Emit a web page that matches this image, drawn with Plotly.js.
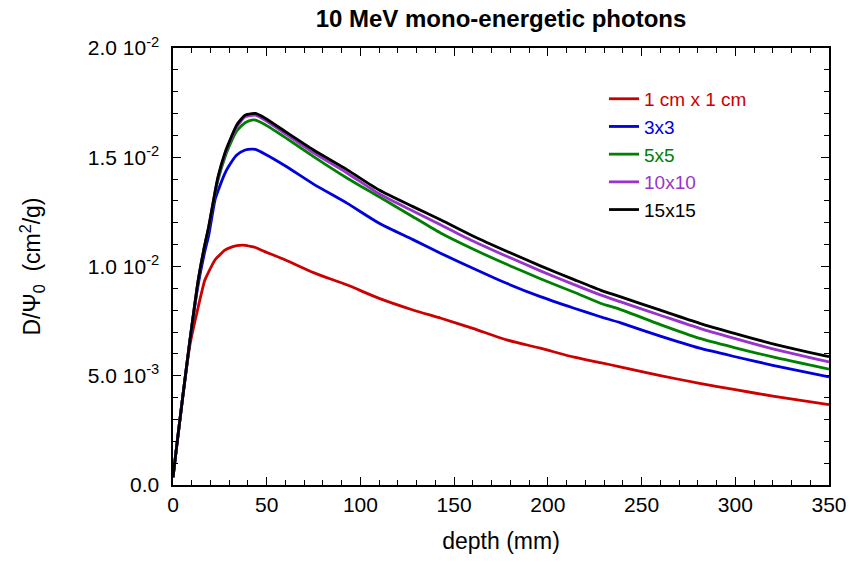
<!DOCTYPE html>
<html>
<head>
<meta charset="utf-8">
<script src="https://cdn.plot.ly/plotly-3.0.1.min.js"></script>
<style>
html,body{margin:0;padding:0;background:#fff;}
#chart{width:860px;height:562px;}
</style>
</head>
<body>
<div id="chart"></div>
<script>
// depth in mm
var depth = [0, 2, 5, 9, 13.5, 17, 19, 22.4, 24, 27.7, 29.5, 34, 38.5, 42, 44, 49, 60, 75, 93, 110, 128, 143, 160, 178, 196, 214, 228, 238.5, 260, 281, 300, 320, 350];
// D/Psi0 values in units of 1e-3 cm^2/g
var field1x1 = [0.35, 1.8, 3.9, 6.4, 8.16, 9.38, 9.75, 10.3, 10.45, 10.75, 10.83, 10.95, 10.97, 10.91, 10.87, 10.68, 10.3, 9.72, 9.15, 8.54, 8.01, 7.63, 7.17, 6.64, 6.26, 5.85, 5.60, 5.41, 5.01, 4.65, 4.36, 4.07, 3.68];
var field3x3 = [0.35, 1.8, 3.9, 6.6, 9.2, 10.7, 11.4, 13.04, 13.45, 14.26, 14.55, 15.1, 15.33, 15.37, 15.36, 15.15, 14.6, 13.77, 12.89, 11.98, 11.23, 10.6, 9.92, 9.23, 8.62, 8.09, 7.70, 7.43, 6.81, 6.26, 5.87, 5.48, 4.95];
var field5x5 = [0.35, 1.8, 3.9, 6.6, 9.4, 11.0, 11.75, 13.3, 13.95, 15.0, 15.4, 16.2, 16.58, 16.70, 16.70, 16.5, 15.9, 15.03, 14.04, 13.19, 12.28, 11.52, 10.8, 10.1, 9.44, 8.82, 8.32, 8.04, 7.34, 6.71, 6.28, 5.86, 5.30];
var field10x10 = [0.35, 1.8, 3.9, 6.6, 9.4, 11.0, 11.8, 13.4, 14.05, 15.15, 15.55, 16.4, 16.85, 16.92, 16.93, 16.7, 16.07, 15.2, 14.27, 13.33, 12.54, 11.9, 11.17, 10.47, 9.8, 9.17, 8.70, 8.39, 7.77, 7.17, 6.70, 6.23, 5.63];
var field15x15 = [0.35, 1.8, 3.9, 6.6, 9.4, 11.0, 11.8, 13.4, 14.1, 15.2, 15.6, 16.48, 16.93, 17.0, 17.01, 16.8, 16.17, 15.33, 14.42, 13.5, 12.74, 12.13, 11.4, 10.7, 10.03, 9.4, 8.92, 8.62, 8.0, 7.40, 6.93, 6.46, 5.87];

var seriesNames = ["1 cm x 1 cm", "3x3", "5x5", "10x10", "15x15"];
var seriesColors = ["#cc0000", "#0000dd", "#008000", "#9933cc", "#000000"];
var seriesData = [field1x1, field3x3, field5x5, field10x10, field15x15];

var yTickVals = [0, 0.005, 0.010, 0.015, 0.020];
var yTickText = ["0.0", "5.0 10<sup>-3</sup>", "1.0 10<sup>-2</sup>", "1.5 10<sup>-2</sup>", "2.0 10<sup>-2</sup>"];

var traces = seriesData.map(function (vals, i) {
  return {
    x: depth,
    y: vals.map(function (v) { return v * 1e-3; }),
    type: "scatter",
    mode: "lines",
    name: '<span style="color:' + seriesColors[i] + '">' + seriesNames[i] + '</span>',
    line: { color: seriesColors[i], width: 2.8, shape: "spline", smoothing: 0.6 }
  };
});

var layout = {
  width: 860,
  height: 562,
  paper_bgcolor: "#ffffff",
  plot_bgcolor: "#ffffff",
  margin: { l: 173, r: 31, t: 48, b: 77 },
  font: { family: "Liberation Sans, Arial, sans-serif", size: 21, color: "#000" },
  title: {
    text: "<b>10 MeV mono-energetic photons</b>",
    font: { size: 24, color: "#000" },
    xref: "paper", x: 0.5, xanchor: "center",
    yref: "container", y: 0.967, yanchor: "middle"
  },
  showlegend: true,
  legend: {
    x: 0.657, y: 0.927, xanchor: "left", yanchor: "top",
    bgcolor: "rgba(0,0,0,0)", borderwidth: 0,
    font: { size: 19 },
    tracegroupgap: 0
  },
  xaxis: {
    range: [0, 350],
    tickvals: [0, 50, 100, 150, 200, 250, 300, 350],
    ticks: "inside", ticklen: 8, tickwidth: 1.2, tickcolor: "#000",
    minor: { dtick: 10, ticks: "inside", ticklen: 5, tickwidth: 1, tickcolor: "#000" },
    showline: true, linecolor: "#000", linewidth: 1.6, mirror: "allticks",
    showgrid: false, zeroline: false,
    tickfont: { size: 21 },
    title: { text: "depth (mm)", font: { size: 23 }, standoff: 18 }
  },
  yaxis: {
    range: [0, 0.02],
    tickvals: yTickVals, ticktext: yTickText,
    ticks: "inside", ticklen: 8, tickwidth: 1.2, tickcolor: "#000",
    minor: { dtick: 0.001, ticks: "inside", ticklen: 5, tickwidth: 1, tickcolor: "#000" },
    showline: true, linecolor: "#000", linewidth: 1.6, mirror: "allticks",
    showgrid: false, zeroline: false,
    ticklabelstandoff: 8,
    tickfont: { size: 21 },
    title: { text: "D/\u03A8<sub>0</sub>  (cm<sup>2</sup>/g)", font: { size: 23 }, standoff: 40 }
  }
};

Plotly.newPlot("chart", traces, layout, { staticPlot: true, displayModeBar: false });
</script>
</body>
</html>
